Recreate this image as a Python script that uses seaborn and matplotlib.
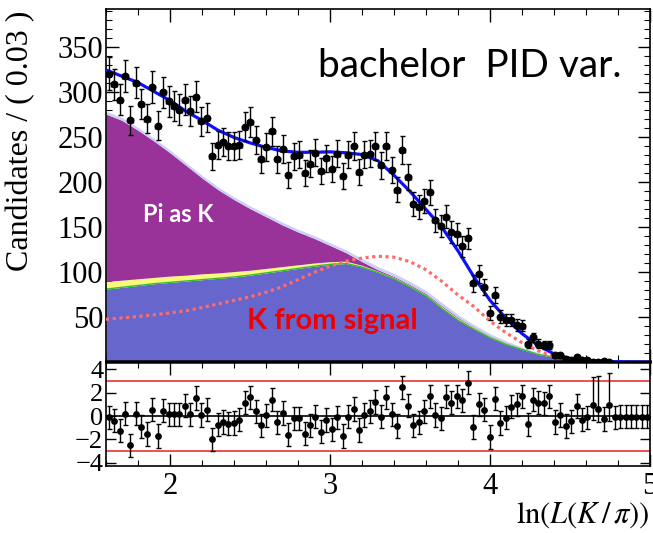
import numpy as np
import pandas as pd
import matplotlib
matplotlib.use("Agg")
import matplotlib.pyplot as plt
import seaborn as sns
from matplotlib.ticker import MultipleLocator

sns.set_theme(style="ticks")
plt.rcParams['font.family'] = ['Liberation Serif', 'DejaVu Serif']
plt.rcParams['mathtext.fontset'] = 'stix'
plt.rcParams['axes.edgecolor'] = 'black'
plt.rcParams['xtick.color'] = 'black'
plt.rcParams['ytick.color'] = 'black'
plt.rcParams['xtick.labelcolor'] = 'black'
plt.rcParams['ytick.labelcolor'] = 'black'
plt.rcParams['text.color'] = 'black'
plt.rcParams['axes.labelcolor'] = 'black'

# ---------------- data ----------------
bin_lo, bin_hi, n_bins = 1.6, 5.0, 100

counts = [321, 309, 292, 318, 269, 311, 287, 271, 306, 263,
          300, 290, 285, 281, 292, 279, 295, 268, 272, 229,
          242, 245, 241, 241, 242, 262, 267, 247, 226, 239,
          257, 226, 237, 208, 229, 231, 210, 221, 233, 213,
          227, 215, 232, 207, 231, 241, 212, 231, 232, 241,
          219, 241, 214, 192, 236, 206, 176, 173, 179, 189,
          158, 152, 162, 145, 143, 129, 138, 88, 98, 84,
          55, 75, 51, 47, 47, 42, 41, 21, 28, 21,
          19, 19, 8, 8, 4, 3, 6, 3, 3, 1,
          1, 2, 1, 0, 0, 0, 0, 0, 0, 0]

pulls = [-0.1, -0.4, -1.25, 0.2, -2.5, 0.2, -0.9, -1.55, 0.55, -1.7,
         0.45, 0.15, 0.15, 0.15, 0.9, 0.15, 1.55, 0.1, 0.55, -2.0,
         -0.75, -0.5, -0.65, -0.6, -0.3, 1.15, 1.6, 0.4, -0.8, 0.05,
         1.4, -0.55, 0.25, -1.6, -0.2, -0.2, -1.5, -0.8, -0.05, -1.35,
         -0.35, -1.15, -0.1, -1.7, -0.05, 0.6, -1.2, 0.1, 0.4, 1.2,
         -0.05, 1.6, 0.15, -0.85, 2.45, 0.9, -0.8, -0.55, 0.4, 1.7,
         0.1, -0.2, 1.65, 1.15, 1.7, 1.35, 2.85, -0.95, 1.0, 0.55,
         -1.8, 1.5, -0.6, -0.15, 0.8, 1.0, 1.7, -0.7, 1.4, 1.15,
         1.1, 1.7, -0.5, 0.1, -0.85, -0.45, 0.85, -0.3, -0.1, 0.95,
         0.6, -0.25, 0.95, -0.1, -0.05, -0.05, -0.05, -0.05, -0.05, -0.05]

# asymmetric pull errors for low-count bins: index -> (low, high)
pull_err_special = {89: (1.3, 2.4), 90: (1.1, 2.8), 92: (1.4, 2.7)}

curve_x = [1.6, 1.7, 1.8, 1.9, 2.0, 2.1, 2.2, 2.3, 2.4, 2.5, 2.6, 2.7,
           2.8, 2.9, 3.0, 3.1, 3.2, 3.3, 3.4, 3.5, 3.6, 3.7, 3.8, 3.9,
           4.0, 4.1, 4.2, 4.3, 4.4, 4.5, 4.6, 4.7, 4.8, 4.9, 5.0]

total_fit = [325, 318, 311, 301, 291, 279, 269, 258, 250, 244, 239, 235,
             233.5, 233.5, 234, 233, 231, 224, 208, 190, 170, 150, 124, 95,
             69, 49, 32, 19, 9.5, 4.3, 2.3, 1.2, 0.7, 0.4, 0.2]

signal_pdf = [48, 49.5, 51, 53, 55, 57.5, 61, 65, 69, 73, 78, 84,
              92, 100, 107, 112.5, 116, 118, 117, 112, 103, 90, 75, 62,
              46, 33, 22, 13, 6.5, 3.5, 1.5, 0.6, 0.2, 0.05, 0.01]

kaon_top = [81.5, 83.5, 85.5, 87.5, 89, 90.5, 92, 93.5, 95, 97, 99.5, 102,
            104.5, 107, 109, 110, 106, 100, 93, 84, 74, 60, 47, 37,
            27.5, 20, 14.5, 9, 5.8, 3, 1.5, 0.7, 0.3, 0.1, 0.05]

yellow_top = [90, 91.5, 93, 94.5, 96, 97, 98.5, 99.5, 101, 102.5, 104.5, 106.5,
              108.5, 110.5, 112, 112.5, 108, 101.5, 94.5, 85.5, 75.5, 62, 49, 39,
              29, 21.5, 15.3, 9.8, 6.3, 3.4, 1.7, 0.8, 0.35, 0.12, 0.06]

pion_top = [276, 269, 258, 246, 233, 219, 205, 192, 181, 171, 162, 153,
            145, 138, 130, 122, 112, 103, 95.5, 86.5, 76.5, 63, 50, 39.5,
            29.5, 22, 15.5, 10, 6.5, 3.5, 1.8, 0.8, 0.4, 0.15, 0.06]

other_top = [279, 272, 261, 249, 236, 222, 208, 195, 184, 174, 165, 156,
             148, 141, 133, 125, 115.5, 106.5, 99, 90, 80, 66.5, 53, 42,
             32, 24, 17, 11, 7.5, 4, 2, 1, 0.5, 0.2, 0.1]

# ---------------- derived tables ----------------
edges = np.linspace(bin_lo, bin_hi, n_bins + 1)
centers = 0.5 * (edges[:-1] + edges[1:])
half_w = 0.5 * (edges[1] - edges[0])

hist = pd.DataFrame({"x": centers, "n": counts, "pull": pulls})
hist["err"] = np.sqrt(hist["n"])
hist["plo"] = 1.0
hist["phi"] = 1.0
for k, (lo, hi) in pull_err_special.items():
    hist.loc[k, "plo"] = lo
    hist.loc[k, "phi"] = hi
shown = hist[hist["n"] > 0]

curves = pd.DataFrame({"x": curve_x, "total": total_fit, "sig": signal_pdf,
                       "kaon": kaon_top, "yellow": yellow_top,
                       "pion": pion_top, "other": other_top})

# ---------------- figure ----------------
fig = plt.figure(figsize=(6.53, 5.33), dpi=100)
ax = fig.add_axes([0.1623, 0.3218, 0.8331, 0.6608])
axp = fig.add_axes([0.1623, 0.1257, 0.8331, 0.1951], sharex=ax)

# stacked component areas
ax.fill_between(curves["x"], 0, curves["kaon"], color="#6666cc", lw=0, zorder=1)
ax.fill_between(curves["x"], curves["kaon"], curves["yellow"], color="#f8f87c", lw=0, zorder=1)
ax.fill_between(curves["x"], curves["yellow"], curves["pion"], color="#993399", lw=0, zorder=1)
ax.fill_between(curves["x"], curves["pion"], curves["other"], color="#cdcdf5", lw=0, zorder=1)
sns.lineplot(data=curves, x="x", y="kaon", ax=ax, color="#33bb33", lw=1.0, zorder=2)

# signal pdf (dotted) and total fit
sns.lineplot(data=curves, x="x", y="sig", ax=ax, color="#ff6b6b", lw=2.3,
             dashes=False, zorder=3).lines[-1].set_dashes((1, 1.1))
sns.lineplot(data=curves, x="x", y="total", ax=ax, color="#1010ff", lw=2.3, zorder=4)

# data points
ax.errorbar(shown["x"], shown["n"], yerr=shown["err"], xerr=half_w, fmt="none",
            ecolor="black", elinewidth=1.0, capsize=1.8, zorder=5)
sns.scatterplot(data=shown, x="x", y="n", ax=ax, color="black", s=32,
                edgecolor="black", linewidth=0, zorder=6)

ax.set_xlim(bin_lo, bin_hi)
ax.set_ylim(1.1, 392.4)
ax.set_xlabel("")
ax.set_ylabel("")
ax.yaxis.set_major_locator(MultipleLocator(50))
ax.yaxis.set_minor_locator(MultipleLocator(10))
ax.xaxis.set_major_locator(MultipleLocator(1))
ax.xaxis.set_minor_locator(MultipleLocator(0.2))
ax.tick_params(which="both", direction="in", top=True, right=True,
               labelbottom=False, labelsize=22, pad=2)
ax.tick_params(which="major", length=9, width=1.0)
ax.tick_params(which="minor", length=4.5, width=0.8)
ax.set_yticks([50, 100, 150, 200, 250, 300, 350])
for s in ax.spines.values():
    s.set_linewidth(1.2)
ax.spines["bottom"].set_linewidth(1.8)

# annotations
ax.text(0.39, 0.807, "bachelor  PID var.", transform=ax.transAxes,
        family=["Lato", "DejaVu Sans"], fontsize=28, color="black",
        ha="left", va="baseline")
ax.text(0.068, 0.395, "Pi as K", transform=ax.transAxes,
        family=["Lato", "DejaVu Sans"], fontsize=17, fontweight="bold",
        color="white", ha="left", va="baseline")
ax.text(0.259, 0.092, "K from signal", transform=ax.transAxes,
        family=["Lato", "DejaVu Sans"], fontsize=21, fontweight="bold",
        color="#f00000", ha="left", va="baseline")

# pull panel
axp.axhline(0, color="black", lw=1.2, zorder=1)
axp.axhline(3, color="#f04040", lw=1.3, zorder=1)
axp.axhline(-3, color="#f04040", lw=1.3, zorder=1)
axp.errorbar(hist["x"], hist["pull"], yerr=[hist["plo"], hist["phi"]], fmt="none",
             ecolor="black", elinewidth=1.0, capsize=1.8, zorder=3)
sns.scatterplot(data=hist, x="x", y="pull", ax=axp, color="black", s=24,
                linewidth=0, zorder=4)
axp.set_ylim(-4.28, 4.63)
axp.set_xlim(bin_lo, bin_hi)
axp.set_xlabel("")
axp.set_ylabel("")
axp.set_yticks([-4, -2, 0, 2, 4])
axp.xaxis.set_major_locator(MultipleLocator(1))
axp.xaxis.set_minor_locator(MultipleLocator(0.2))
axp.set_xticks([2, 3, 4, 5])
axp.tick_params(which="both", direction="in", top=True, right=True, pad=2)
axp.tick_params(axis="x", labelsize=22, pad=4)
axp.tick_params(axis="y", labelsize=19)
axp.tick_params(axis="y", which="minor", left=False, right=False)
axp.tick_params(which="major", length=7, width=1.0)
axp.tick_params(axis="x", which="major", length=9)
axp.tick_params(which="minor", length=4.5, width=0.8)
for s in axp.spines.values():
    s.set_linewidth(1.2)
axp.spines["top"].set_linewidth(1.8)

# axis titles
fig.text(0.031, 0.981, "Candidates / ( 0.03 )", rotation=90, fontsize=23,
         ha="center", va="top")
fig.text(0.994, 0.034, r"$\ln(L(K\,/\,\pi))$", fontsize=22, ha="right",
         va="center")

fig.savefig("out.png", dpi=100)
